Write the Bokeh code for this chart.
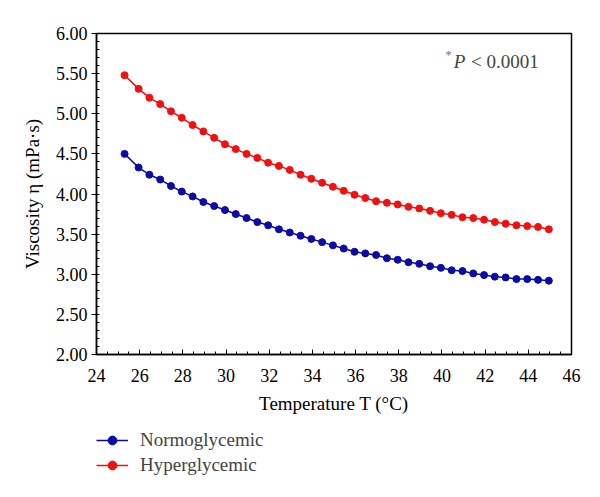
from bokeh.plotting import figure
from bokeh.models import (Range1d, SingleIntervalTicker, NumeralTickFormatter,
                          Legend, LegendItem, Label)
from bokeh.layouts import column
from bokeh.embed import file_html
from bokeh.resources import INLINE

temperature = [25.3, 25.95, 26.45, 26.95, 27.45, 27.95, 28.45, 28.95, 29.45, 29.95,
               30.45, 30.95, 31.45, 31.95, 32.45, 32.95, 33.45, 33.95, 34.45, 34.95,
               35.45, 35.95, 36.45, 36.95, 37.45, 37.95, 38.45, 38.95, 39.45, 39.95,
               40.45, 40.95, 41.45, 41.95, 42.45, 42.95, 43.45, 43.95, 44.45, 44.95]

normoglycemic = [4.50, 4.33, 4.24, 4.18, 4.10, 4.03, 3.97, 3.90, 3.85, 3.80,
                 3.75, 3.70, 3.65, 3.61, 3.56, 3.52, 3.48, 3.44, 3.40, 3.36,
                 3.32, 3.28, 3.26, 3.24, 3.20, 3.18, 3.15, 3.13, 3.10, 3.08,
                 3.05, 3.04, 3.01, 2.99, 2.97, 2.96, 2.94, 2.94, 2.93, 2.92]

hyperglycemic = [5.48, 5.31, 5.20, 5.12, 5.03, 4.95, 4.86, 4.78, 4.70, 4.62,
                 4.56, 4.50, 4.45, 4.39, 4.35, 4.30, 4.24, 4.19, 4.14, 4.09,
                 4.04, 3.99, 3.95, 3.91, 3.89, 3.87, 3.84, 3.82, 3.79, 3.76,
                 3.74, 3.71, 3.70, 3.68, 3.65, 3.63, 3.61, 3.60, 3.59, 3.56]

series_names = ["Normoglycemic", "Hyperglycemic"]
series_values = [normoglycemic, hyperglycemic]
series_colors = ["#0a0aa8", "#f20f0f"]

FONT = "Liberation Serif"

p = figure(width=592, height=425, output_backend="svg", toolbar_location=None,
           x_range=Range1d(24, 46), y_range=Range1d(2, 6),
           min_border_left=96, min_border_right=21, min_border_top=33,
           min_border_bottom=71)
p.grid.visible = False
p.outline_line_color = "black"
p.outline_line_width = 1.5
p.background_fill_color = "white"
p.border_fill_color = "white"

# x axis
xa = p.xaxis[0]
xa.ticker = SingleIntervalTicker(interval=2, num_minor_ticks=4)
xa.axis_label = "Temperature T (°C)"
xa.major_tick_in = 5
xa.major_tick_out = 0
xa.minor_tick_in = 3
xa.minor_tick_out = 0
xa.major_label_standoff = 14
xa.axis_label_standoff = 8

# y axis
ya = p.yaxis[0]
ya.ticker = SingleIntervalTicker(interval=0.5, num_minor_ticks=5)
ya.formatter = NumeralTickFormatter(format="0.00")
ya.axis_label = "Viscosity η (mPa·s)"
ya.major_tick_in = 0
ya.major_tick_out = 5
ya.minor_tick_in = 3
ya.minor_tick_out = 0
ya.major_label_standoff = 4
ya.axis_label_standoff = 10

for ax in (xa, ya):
    ax.axis_line_width = 1.5
    ax.axis_line_color = "black"
    ax.major_tick_line_color = "black"
    ax.minor_tick_line_color = "black"
    ax.major_label_text_font = FONT
    ax.major_label_text_font_size = "18px"
    ax.major_label_text_color = "black"
    ax.axis_label_text_font = FONT
    ax.axis_label_text_font_size = "19px"
    ax.axis_label_text_font_style = "normal"
    ax.axis_label_text_color = "black"

for vals, col in zip(series_values, series_colors):
    p.line(temperature, vals, line_color=col, line_width=1.5)
    p.scatter(temperature, vals, size=7, fill_color=col, line_color=col)

# significance note
p.add_layout(Label(x=40.15, y=5.74, text="*", text_font=FONT, text_font_size="13px",
                   text_color="#777777", text_baseline="alphabetic"))
p.add_layout(Label(x=40.55, y=5.65, text="P", text_font=FONT, text_font_size="19px",
                   text_font_style="italic", text_baseline="alphabetic"))
p.add_layout(Label(x=41.35, y=5.65, text="< 0.0001", text_font=FONT,
                   text_font_size="19px", text_baseline="alphabetic"))

# legend strip below the chart (series drawn outside its visible ranges)
q = figure(width=592, height=64, output_backend="svg", toolbar_location=None,
           x_axis_type=None, y_axis_type=None,
           x_range=Range1d(0, 1), y_range=Range1d(0, 1),
           min_border_left=96, min_border_right=21, min_border_top=0,
           min_border_bottom=0)
q.grid.visible = False
q.outline_line_color = None
q.border_fill_color = "white"
q.background_fill_color = "white"
items = []
for name, vals, col in zip(series_names, series_values, series_colors):
    lr = q.line(temperature, vals, line_color=col, line_width=1.5)
    sr = q.scatter(temperature, vals, size=7, fill_color=col, line_color=col)
    items.append(LegendItem(label=name, renderers=[lr, sr]))
legend = Legend(items=items, location=(0, 13), margin=0, padding=0,
                spacing=3, glyph_width=32, glyph_height=22, label_height=22,
                label_standoff=12, label_text_font=FONT,
                label_text_font_size="19px", border_line_color=None,
                background_fill_alpha=0)
q.add_layout(legend, "center")

open("out.html", "w").write(file_html(column(p, q, spacing=0), INLINE))
